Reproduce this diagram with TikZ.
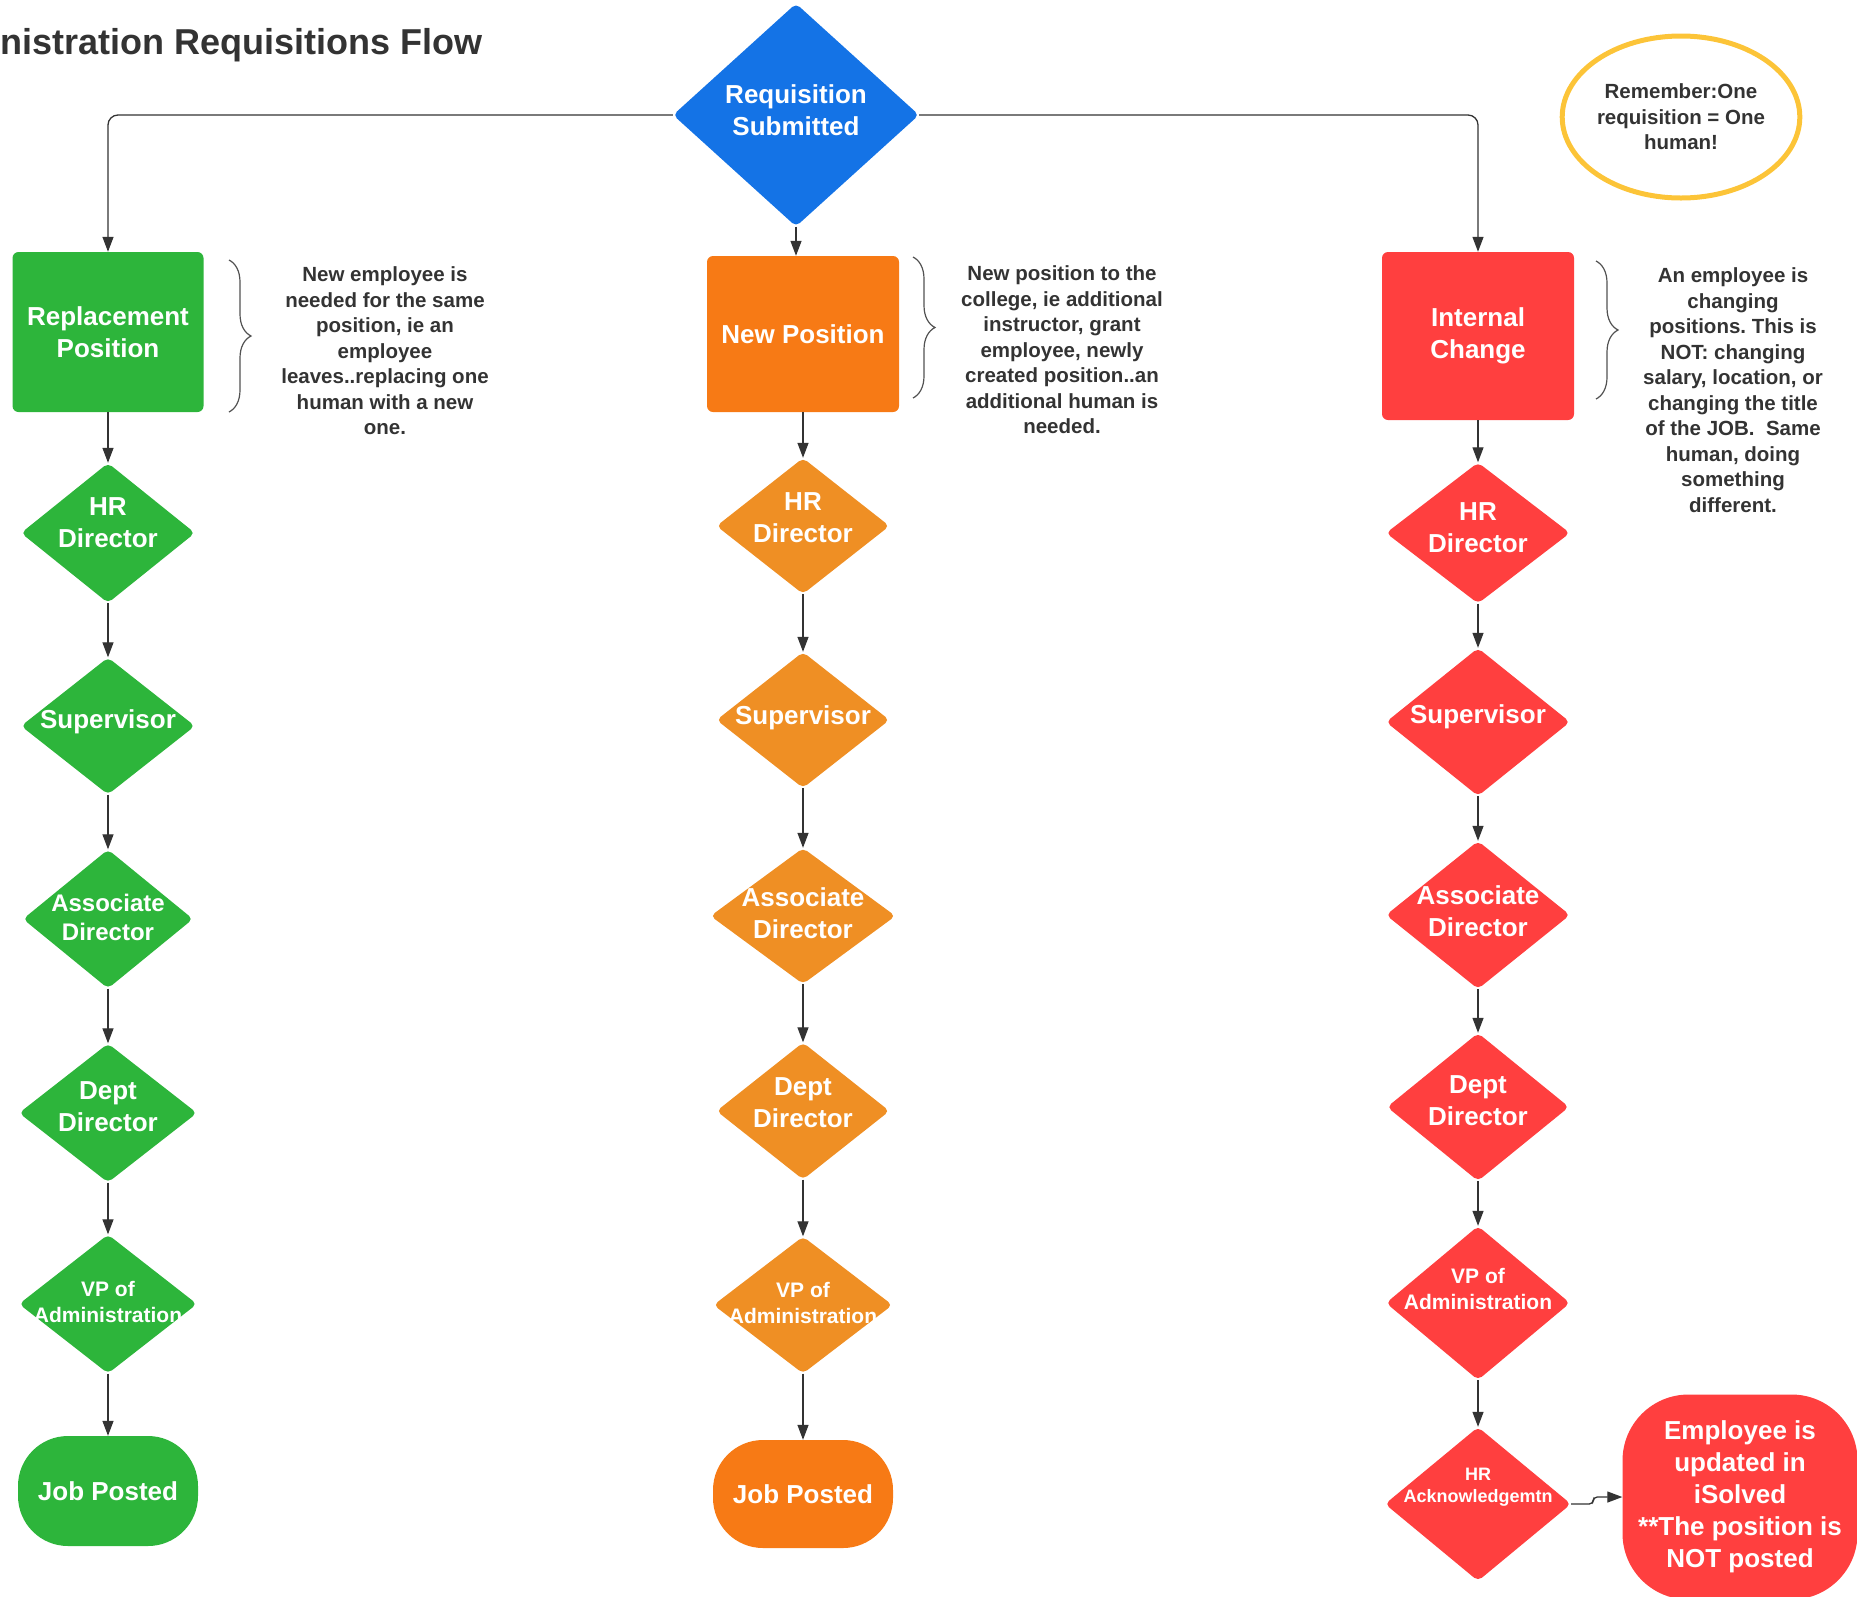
\documentclass[tikz,border=0pt]{standalone}
\usepackage{fontspec}
\setmainfont{Liberation Sans}
\usetikzlibrary{shapes.geometric, arrows.meta, decorations.pathreplacing}
\frenchspacing

\definecolor{reqblue}{HTML}{1473E6}
\definecolor{repgreen}{HTML}{2DB53B}
\definecolor{neworange}{HTML}{F77A15}
\definecolor{diaorange}{HTML}{EF8F24}
\definecolor{intred}{HTML}{FF3F3F}
\definecolor{remyellow}{HTML}{FCC438}
\definecolor{inkgray}{HTML}{333333}

\newcommand{\flowtitle}{\fontsize{36}{43}\selectfont\bfseries}
\newcommand{\flowbig}{\fontsize{26}{32}\selectfont\bfseries}
\newcommand{\flowmid}{\fontsize{24}{29}\selectfont\bfseries}
\newcommand{\flowsmall}{\fontsize{21}{26}\selectfont\bfseries}
\newcommand{\flowtiny}{\fontsize{18}{22.5}\selectfont\bfseries}
\newcommand{\flownote}{\fontsize{20.5}{25.5}\selectfont\bfseries}

\tikzset{
	box/.style={rectangle, rounded corners=6pt, fill=#1, inner sep=0pt, text=white, font=\flowbig, align=center},
	dia/.style={diamond, rounded corners=5pt, fill=#1, inner sep=0pt},
	endcap/.style={rectangle, rounded corners=#1, inner sep=0pt, text=white, font=\flowbig, align=center},
	lab/.style={text=white, font=\flowbig, align=center, inner sep=0pt},
	note/.style={text=inkgray, font=\flownote, align=center},
	flow/.style={draw=inkgray, line width=1.3pt, -{Triangle[length=15pt,width=11pt]}},
	brc/.style={draw=inkgray!85, line width=1.2pt, decorate, decoration={brace, amplitude=22pt}}
}

\begin{document}
\begin{tikzpicture}[x=1pt, y=-1pt]
	\useasboundingbox (0,0) rectangle (1857,1596);
	\node[anchor=base west, inner sep=0pt, text=inkgray, font=\flowtitle] (title) at (0,54) {nistration Requisitions Flow};
	\node[dia=reqblue, minimum width=246pt, minimum height=223pt, label={[lab,yshift=5pt]center:Requisition\\Submitted}] (req) at (796,115) {};
	\node[ellipse, draw=remyellow, line width=5pt, minimum width=214pt, minimum height=162pt, inner sep=0pt, note] (rem) at (1681,117) {Remember:One\\requisition = One\\human!};

	% replacement column
	\node[box=repgreen, minimum width=191pt, minimum height=160pt] (rep) at (108,332) {Replacement\\Position};
	\node[dia=repgreen, minimum width=174pt, minimum height=140pt, label={[lab,yshift=10pt]center:HR\\Director}] (hr1) at (108,533) {};
	\node[dia=repgreen, minimum width=174pt, minimum height=137pt, label={[lab,yshift=4pt]center:Supervisor}] (sup1) at (108,726) {};
	\node[dia=repgreen, minimum width=170pt, minimum height=139pt, label={[lab,font=\flowmid,yshift=2pt]center:Associate\\Director}] (asc1) at (108,919) {};
	\node[dia=repgreen, minimum width=178pt, minimum height=139pt, label={[lab,yshift=6pt]center:Dept\\Director}] (dep1) at (108,1113) {};
	\node[dia=repgreen, minimum width=178pt, minimum height=139pt, label={[lab,font=\flowsmall,yshift=2pt]center:VP of\\Administration}] (vp1) at (108,1304) {};
	\node[endcap=50pt, fill=repgreen, minimum width=180pt, minimum height=110pt] (job1) at (108,1491) {Job Posted};
	\node[note] (rnote) at (385,351) {New employee is\\needed for the same\\position, ie an\\employee\\leaves..replacing one\\human with a new\\one.};
	\draw[brc] (229,260) -- (229,412);

	% new position column
	\node[box=neworange, minimum width=192pt, minimum height=156pt] (newp) at (803,334) {New Position};
	\node[dia=diaorange, minimum width=173pt, minimum height=136pt, label={[lab,yshift=8pt]center:HR\\Director}] (hr2) at (803,526) {};
	\node[dia=diaorange, minimum width=173pt, minimum height=136pt, label={[lab,yshift=2pt]center:Supervisor}] (sup2) at (803,720) {};
	\node[dia=diaorange, minimum width=185pt, minimum height=136pt, label={[lab,yshift=3pt]center:Associate\\Director}] (asc2) at (803,916) {};
	\node[dia=diaorange, minimum width=173pt, minimum height=137pt, label={[lab,yshift=8pt]center:Dept\\Director}] (dep2) at (803,1111) {};
	\node[dia=diaorange, minimum width=179pt, minimum height=137pt, label={[lab,font=\flowsmall,yshift=2pt]center:VP of\\Administration}] (vp2) at (803,1305) {};
	\node[endcap=50pt, fill=neworange, minimum width=180pt, minimum height=108pt] (job2) at (803,1494) {Job Posted};
	\node[note] (nnote) at (1062,350) {New position to the\\college, ie additional\\instructor, grant\\employee, newly\\created position..an\\additional human is\\needed.};
	\draw[brc] (913,257) -- (913,398);

	% internal change column
	\node[box=intred, minimum width=192pt, minimum height=168pt] (int) at (1478,336) {Internal\\Change};
	\node[dia=intred, minimum width=184pt, minimum height=141pt, label={[lab,yshift=5pt]center:HR\\Director}] (hr3) at (1478,533) {};
	\node[dia=intred, minimum width=184pt, minimum height=148pt, label={[lab,yshift=5pt]center:Supervisor}] (sup3) at (1478,722) {};
	\node[dia=intred, minimum width=184pt, minimum height=148pt, label={[lab,yshift=4pt]center:Associate\\Director}] (asc3) at (1478,915) {};
	\node[dia=intred, minimum width=182pt, minimum height=148pt, label={[lab,yshift=6pt]center:Dept\\Director}] (dep3) at (1478,1107) {};
	\node[dia=intred, minimum width=184pt, minimum height=154pt, label={[lab,font=\flowsmall,yshift=14pt]center:VP of\\Administration}] (vp3) at (1478,1303) {};
	\node[dia=intred, minimum width=186pt, minimum height=154pt, label={[lab,font=\flowtiny,yshift=17pt]center:HR\\Acknowledgemtn}] (ack3) at (1478,1504) {};
	\node[endcap=66pt, fill=intred, minimum width=235pt, minimum height=205pt] (emp) at (1740,1497) {Employee is\\updated in\\iSolved\\**The position is\\NOT posted};
	\node[note] (inote) at (1733,390) {An employee is\\changing\\positions. This is\\NOT: changing\\salary, location, or\\changing the title\\of the JOB.\ \ Same\\human, doing\\something\\different.};
	\draw[brc] (1596,261) -- (1596,399);

	% connectors
	\draw[flow, rounded corners=10pt] (req.west) -| (rep.north);
	\draw[flow, rounded corners=10pt] (req.east) -| (int.north);
	\draw[flow] (req.south) -- (req.south |- newp.north);
	\foreach \a/\b in {rep/hr1, hr1/sup1, sup1/asc1, asc1/dep1, dep1/vp1, vp1/job1, newp/hr2, hr2/sup2, sup2/asc2, asc2/dep2, dep2/vp2, vp2/job2, int/hr3, hr3/sup3, sup3/asc3, asc3/dep3, dep3/vp3, vp3/ack3}
		\draw[flow] (\a.south) -- (\b.north);
	\draw[flow, rounded corners=4pt] (ack3.east) -- ++(22,0) |- (emp.west);
\end{tikzpicture}
\end{document}
